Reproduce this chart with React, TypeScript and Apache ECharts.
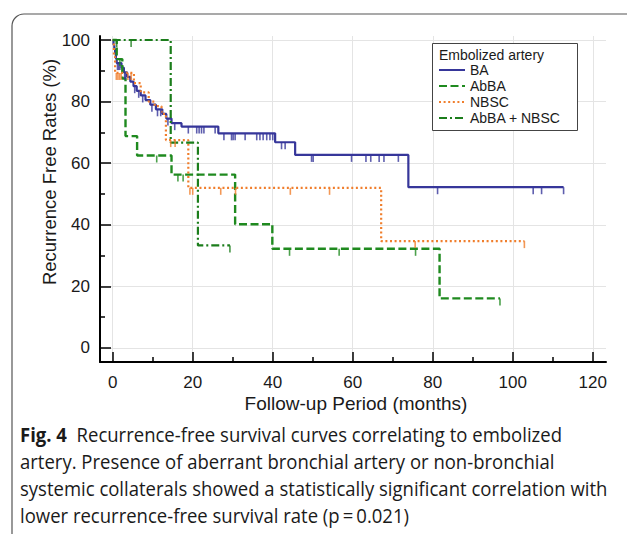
import React, { useEffect, useRef } from "react";
import * as echarts from "echarts";

// ---- axis ticks ----
const xTickValues = [0, 20, 40, 60, 80, 100, 120];
const xMinorTickValues = [10, 30, 50, 70, 90, 110];
const yTickValues = [0, 20, 40, 60, 80, 100];
const yMinorTickValues = [10, 30, 50, 70, 90];

// ---- Kaplan-Meier curves (months, %) ----
const seriesNames = ["BA", "AbBA", "NBSC", "AbBA + NBSC"];

const baTimes = [0, 0.2, 0.4, 0.6, 0.8, 1.0, 2.2, 2.8, 3.6, 4.4, 5.2, 6.0, 7.0, 8.2, 9.4, 10.8, 12.4, 13.4, 14.7, 17.2, 26.4, 40.6, 45.6, 73.9, 112.7];
const baRates = [100, 98.5, 97, 95.5, 94, 92.5, 91, 89.5, 88, 86.5, 85, 83.5, 82, 80.5, 79, 77.5, 76, 74.5, 73, 71.9, 69.7, 66.8, 62.7, 52.2, 52.2];
const baCensored = [1.2, 1.5, 1.8, 3.0, 3.2, 5.5, 6.5, 7.5, 9.8, 11.2, 12.0, 13.8, 15.5, 18.9, 21.0, 21.6, 22.2, 22.8, 25.6, 27.8, 29.7, 30.1, 30.6, 33.1, 36.0, 36.8, 37.6, 38.5, 39.3, 40.0, 42.2, 43.1, 49.7, 50.1, 59.7, 63.3, 64.5, 66.6, 67.8, 71.4, 81.2, 105.1, 107.2, 112.7];

const abbaTimes = [0, 1.0, 2.4, 3.2, 6.1, 14.7, 30.6, 39.9, 81.7, 96.8];
const abbaRates = [100, 93.8, 87.5, 68.8, 62.5, 56.3, 40.2, 32.2, 16.1, 16.1];
const abbaCensored = [1.8, 11.0, 16.3, 17.6, 44.2, 56.6, 75.7, 96.8];

const nbscTimes = [0, 0.3, 0.6, 5.3, 7.0, 9.0, 10.5, 12.2, 13.3, 18.9, 67.1, 102.9];
const nbscRates = [100, 94.5, 89.3, 86, 83, 80, 78.5, 76, 67.5, 52, 34.7, 34.7];
const nbscCensored = [0.9, 1.3, 1.7, 2.1, 3.8, 4.6, 14.5, 15.6, 19.3, 20.0, 27.0, 30.7, 44.4, 54.2, 75.6, 102.9];

const bothTimes = [0, 14.5, 21.3, 29.3];
const bothRates = [100, 66.7, 33.3, 33.3];
const bothCensored = [1.0, 4.6, 29.3];

const captionLines = [
  "{b|Fig. 4}  Recurrence-free survival curves correlating to embolized",
  "artery. Presence of aberrant bronchial artery or non-bronchial",
  "systemic collaterals showed a statistically significant correlation with",
  "lower recurrence-free survival rate (p\u2009=\u20090.021)",
];

function stepValue(times: number[], rates: number[], t: number) {
  let v = rates[0];
  for (let i = 0; i < times.length; i++) if (times[i] <= t) v = rates[i];
  return v;
}

const AXIS_FONT = "Liberation Sans";
const CAPTION_FONT = "Open Sans";

export default function App() {
  const ref = useRef<HTMLDivElement>(null);
  useEffect(() => {
    if (!ref.current) return;
    const chart = echarts.init(ref.current, undefined, { renderer: "svg" });

    // caption horizontal compression to match the narrow original typeface
    let capScale = 0.82;
    try {
      const ctx = document.createElement("canvas").getContext("2d");
      if (ctx) {
        ctx.font = `19.5px "${CAPTION_FONT}"`;
        const w = ctx.measureText(captionLines[2]).width;
        if (w > 0) capScale = 588 / w;
      }
    } catch (e) {}

    const curves = [
      { name: seriesNames[0], times: baTimes, rates: baRates, cens: baCensored, color: "#36369a", type: "solid" as any, width: 2.2 },
      { name: seriesNames[1], times: abbaTimes, rates: abbaRates, cens: abbaCensored, color: "#1f8a1f", type: [8, 3.5] as any, width: 2.4 },
      { name: seriesNames[2], times: nbscTimes, rates: nbscRates, cens: nbscCensored, color: "#f07e2c", type: [2, 2.6] as any, width: 2.2 },
      { name: seriesNames[3], times: bothTimes, rates: bothRates, cens: bothCensored, color: "#1b7d1b", type: [8, 3, 2, 3] as any, width: 2.2 },
    ];

    const series: any[] = [];
    curves.forEach((c) => {
      series.push({
        type: "line",
        name: c.name,
        step: "end",
        symbol: "none",
        showSymbol: false,
        data: c.times.map((t, i) => [t, c.rates[i]]),
        lineStyle: { color: c.color, width: c.width, type: c.type },
        itemStyle: { color: c.color },
        z: 3,
      });
    });
    curves.forEach((c) => {
      series.push({
        type: "scatter",
        name: c.name + " censored",
        symbol: "rect",
        symbolSize: [1.6, 7],
        symbolOffset: [0, 3.5],
        data: c.cens.map((t) => [t, stepValue(c.times, c.rates, t)]),
        itemStyle: { color: c.color },
        silent: true,
        z: 3,
      });
    });

    const xMin = -3.175;
    const xMax = 123.3;
    const yMin = -4.55;
    const yMax = 101.3;

    const labelStyle = { fontFamily: AXIS_FONT, fontSize: 17, color: "#1a1a1a" };

    const graphic: any[] = [
      {
        type: "rect",
        shape: { x: 12, y: 14, width: 650, height: 560, r: 12 },
        style: { fill: "none", stroke: "#555", lineWidth: 1.2 },
        silent: true,
      },
      {
        type: "rect",
        shape: { x: 432.5, y: 43.5, width: 145, height: 87 },
        style: { fill: "#fff", stroke: "#444", lineWidth: 1 },
        z: 3,
        silent: true,
      },
      {
        type: "text",
        x: 439,
        y: 55,
        style: { text: "Embolized artery", fontFamily: AXIS_FONT, fontSize: 14, fill: "#1a1a1a", textVerticalAlign: "middle" },
        z: 5,
      },
      {
        type: "text",
        x: 356,
        y: 403,
        style: { text: "Follow-up Period (months)", fontFamily: AXIS_FONT, fontSize: 19, fill: "#1a1a1a", textAlign: "center", textVerticalAlign: "middle" },
      },
      {
        type: "text",
        x: 49,
        y: 172,
        rotation: Math.PI / 2,
        style: { text: "Recurrence Free Rates (%)", fontFamily: AXIS_FONT, fontSize: 18.5, fill: "#1a1a1a", textAlign: "center", textVerticalAlign: "middle" },
      },
    ];
    const capY = [435, 462, 489, 516];
    captionLines.forEach((line, i) => {
      graphic.push({
        type: "text",
        x: 20,
        y: capY[i],
        scaleX: capScale,
        style: {
          text: line,
          fontFamily: CAPTION_FONT,
          fontSize: 19.5,
          fill: "#1a1a1a",
          textVerticalAlign: "middle",
          rich: { b: { fontFamily: CAPTION_FONT, fontSize: 19.5, fontWeight: "bold", fill: "#1a1a1a" } },
        },
      });
    });

    chart.setOption({
      animation: false,
      backgroundColor: "#ffffff",
      grid: { left: 100, right: 21, top: 36, bottom: 172, containLabel: false },
      xAxis: [
        {
          type: "value",
          min: xMin,
          max: xMax,
          axisLine: { show: true, onZero: false, lineStyle: { color: "#000", width: 2 } },
          axisTick: { show: true, inside: true, length: 10, customValues: xTickValues, lineStyle: { color: "#000", width: 1.5 } },
          axisLabel: { show: true, customValues: xTickValues, margin: 12, ...labelStyle },
          splitLine: { show: true, lineStyle: { color: "#e4e4e4", width: 1 } },
        },
        {
          type: "value",
          position: "bottom",
          min: xMin,
          max: xMax,
          axisLine: { show: false, onZero: false },
          axisTick: { show: true, inside: true, length: 5, customValues: xMinorTickValues, lineStyle: { color: "#000", width: 1.5 } },
          axisLabel: { show: false },
          splitLine: { show: false },
        },
      ],
      yAxis: [
        {
          type: "value",
          min: yMin,
          max: yMax,
          axisLine: { show: true, onZero: false, lineStyle: { color: "#000", width: 2 } },
          axisTick: { show: true, inside: true, length: 11, customValues: yTickValues, lineStyle: { color: "#000", width: 1.5 } },
          axisLabel: { show: true, customValues: yTickValues, margin: 10, ...labelStyle },
          splitLine: { show: true, lineStyle: { color: "#e4e4e4", width: 1 } },
        },
        {
          type: "value",
          position: "left",
          min: yMin,
          max: yMax,
          axisLine: { show: false, onZero: false },
          axisTick: { show: true, inside: true, length: 5, customValues: yMinorTickValues, lineStyle: { color: "#000", width: 1.5 } },
          axisLabel: { show: false },
          splitLine: { show: false },
        },
      ],
      legend: {
        data: seriesNames,
        orient: "vertical",
        left: 438,
        top: 63,
        itemWidth: 26,
        itemHeight: 14,
        itemGap: 2,
        padding: 0,
        selectedMode: false,
        itemStyle: { opacity: 0 },
        textStyle: { fontFamily: AXIS_FONT, fontSize: 14, color: "#1a1a1a" },
      },
      graphic,
      series,
    });
    return () => chart.dispose();
  }, []);
  return <div ref={ref} style={{ position: "fixed", left: 0, top: 0, width: 627, height: 534, background: "#fff" }} />;
}
